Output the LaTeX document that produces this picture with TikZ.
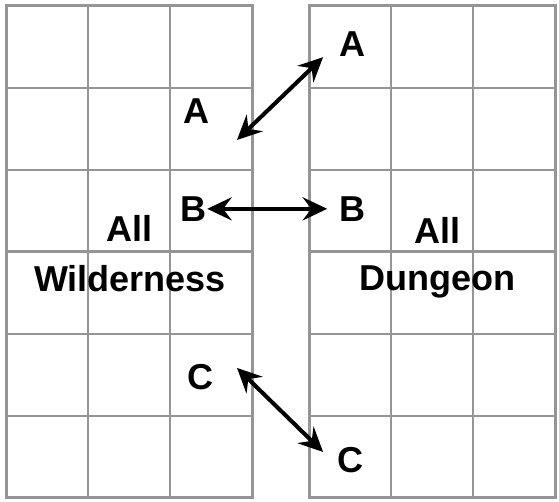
\documentclass[tikz,border=0pt]{standalone}
\usepackage{fontspec}
\setmainfont{Liberation Sans}
\usetikzlibrary{arrows.meta}
\definecolor{griglia}{HTML}{959595}

\begin{document}
\begin{tikzpicture}[>={Stealth[length=17pt,width=16pt,inset=6pt]}, line cap=round,
		font=\fontsize{25}{30}\selectfont\bfseries,
		cella/.style={draw=griglia, line width=1.6pt, line cap=rect},
		bordo/.style={cella, line width=2.1pt},
		freccia/.style={<->, line width=2.8pt},
		etichetta/.style={inner sep=0pt}]

	\useasboundingbox (0,0) rectangle (13.634,12.244);

	% ---- griglie (wilderness a sinistra, dungeon a destra) ----
	\foreach \xo in {0.15,7.54}{
			\foreach \i in {1,2}
			\draw[cella] (\xo+2*\i,0.1) -- (\xo+2*\i,12.1);
			\foreach \j in {1,2,4,5}
			\draw[cella] (\xo,0.1+2*\j) -- (\xo+6,0.1+2*\j);
			\draw[bordo] (\xo,6.1) -- (\xo+6,6.1);
			\draw[bordo] (\xo,0.1) rectangle (\xo+6,12.1);
		}

	% ---- nomi delle mappe ----
	\node[etichetta] (tuttiW) at (3.17,6.66) {All};
	\node[etichetta] (nomeW) at (3.17,5.44) {Wilderness};
	\node[etichetta] (tuttiD) at (10.66,6.63) {All};
	\node[etichetta] (nomeD) at (10.66,5.37) {Dungeon};

	% ---- punti di passaggio ----
	\node[etichetta] (aW) at (4.80,9.54) {A};
	\node[etichetta] (bW) at (4.73,7.15) {B};
	\node[etichetta] (cW) at (4.88,3.05) {C};
	\node[etichetta] (aD) at (8.59,11.17) {A};
	\node[etichetta] (bD) at (8.59,7.15) {B};
	\node[etichetta] (cD) at (8.54,1.02) {C};

	% ---- estremi delle frecce ----
	\coordinate (aW-p) at (5.78,8.83);
	\coordinate (aD-p) at (7.88,10.85);
	\coordinate (bD-p) at (7.98,7.15);
	\coordinate (cW-p) at (5.78,3.27);
	\coordinate (cD-p) at (7.88,1.22);

	% ---- collegamenti ----
	\draw[freccia] (aW-p) -- (aD-p);
	\draw[freccia] (bW.east) -- (bD-p);
	\draw[freccia] (cW-p) -- (cD-p);

\end{tikzpicture}
\end{document}
